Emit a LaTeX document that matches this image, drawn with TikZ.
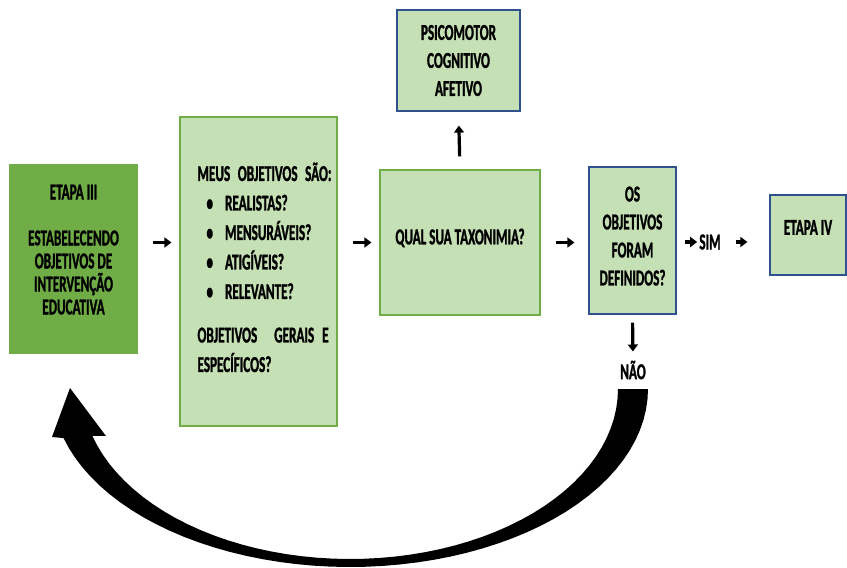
\documentclass[tikz,border=0pt]{standalone}
\usepackage{fontspec}
\setmainfont{Carlito}[FakeStretch=0.58,BoldFeatures={FakeBold=1.2}]
\usetikzlibrary{arrows.meta,positioning}

\definecolor{verdeEscuro}{HTML}{70AD47}
\definecolor{verdeClaro}{HTML}{C5E0B4}
\definecolor{azulBorda}{HTML}{2F528F}

\begin{document}
\begin{tikzpicture}[x=1pt,y=-1pt,
    caixa/.style={rectangle,fill=verdeClaro,draw=verdeEscuro,line width=1.2pt,
        align=center,font=\fontsize{22.7}{28}\selectfont\bfseries},
    caixaazul/.style={caixa,draw=azulBorda},
    flecha/.style={line width=3.2pt,-{Triangle[length=7pt,width=10pt]}},
    rotulo/.style={font=\fontsize{22.7}{23}\selectfont\bfseries,inner sep=1pt}]
\useasboundingbox (0,0) rectangle (847,568);

% caixas
\node[caixa,fill=verdeEscuro,minimum width=127pt,minimum height=188pt,
      font=\fontsize{22.7}{23}\selectfont\bfseries] (etapa3) at (73.5,259)
    {ETAPA III\\[23pt]ESTABELECENDO\\OBJETIVOS DE\\INTERVENÇÃO\\EDUCATIVA\\[-4pt]\mbox{}};
\node[caixa,minimum width=157pt,minimum height=309pt,text width=122pt,align=left,
      font=\fontsize{22.7}{29.5}\selectfont\bfseries] (meus) at (258.5,271.5)
    {\mbox{MEUS OBJETIVOS SÃO:}\\
     \hspace*{9pt}\textbullet\hspace{12pt}REALISTAS?\\
     \hspace*{9pt}\textbullet\hspace{12pt}MENSURÁVEIS?\\
     \hspace*{9pt}\textbullet\hspace{12pt}ATIGÍVEIS?\\
     \hspace*{9pt}\textbullet\hspace{12pt}RELEVANTE?\\[14pt]
     \mbox{OBJETIVOS\hspace{17pt}GERAIS\hspace{8pt}E}\\
     ESPECÍFICOS?\\[-21pt]\mbox{}};
\node[caixa,minimum width=160pt,minimum height=145pt] (taxo) at (460,242.5)
    {QUAL SUA TAXONIMIA?\\[-16pt]\mbox{}};
\node[caixaazul,minimum width=123pt,minimum height=101pt] (psico) at (458.5,60.5)
    {PSICOMOTOR\\COGNITIVO\\AFETIVO};
\node[caixaazul,minimum width=87pt,minimum height=147pt] (definidos) at (632.5,240.5)
    {OS\\OBJETIVOS\\FORAM\\DEFINIDOS?\\[-19pt]\mbox{}};
\node[caixaazul,minimum width=76pt,minimum height=80pt] (etapa4) at (808,235)
    {ETAPA IV\\[-13pt]\mbox{}};

% rotulos
\node[rotulo] (sim) at (710,242) {SIM};
\node[rotulo] (nao) at (633,370) {NÃO};

% setas
\draw[flecha,shorten <=15pt,shorten >=8pt] (etapa3.east |- taxo) -- (meus.west |- taxo);
\draw[flecha,shorten <=15pt,shorten >=8pt] (meus.east |- taxo) -- (taxo.west);
\draw[flecha,shorten <=15pt,shorten >=14pt] (taxo.east) -- (definidos.west |- taxo);
\draw[flecha,shorten <=13pt,shorten >=14pt] (taxo.north) -- (psico.south);
\draw[flecha,shorten <=8pt,shorten >=1pt] (definidos.east |- sim) -- (sim.west);
\draw[flecha,shorten <=14pt,shorten >=22pt] (sim.east) -- (etapa4.west |- sim);
\draw[flecha,shorten <=8pt,shorten >=8pt] (definidos.south) -- (nao.north);

% seta curva de retorno
\fill (648,389) -- plot[domain=0:164,samples=50] ({350+298*cos(\x)},{389+178*sin(\x)})
    -- (52,437) -- (70,388) -- (106,436)
    -- plot[domain=164:0,samples=50] ({350+268*cos(\x)},{389+170*sin(\x)}) -- cycle;
\end{tikzpicture}
\end{document}
